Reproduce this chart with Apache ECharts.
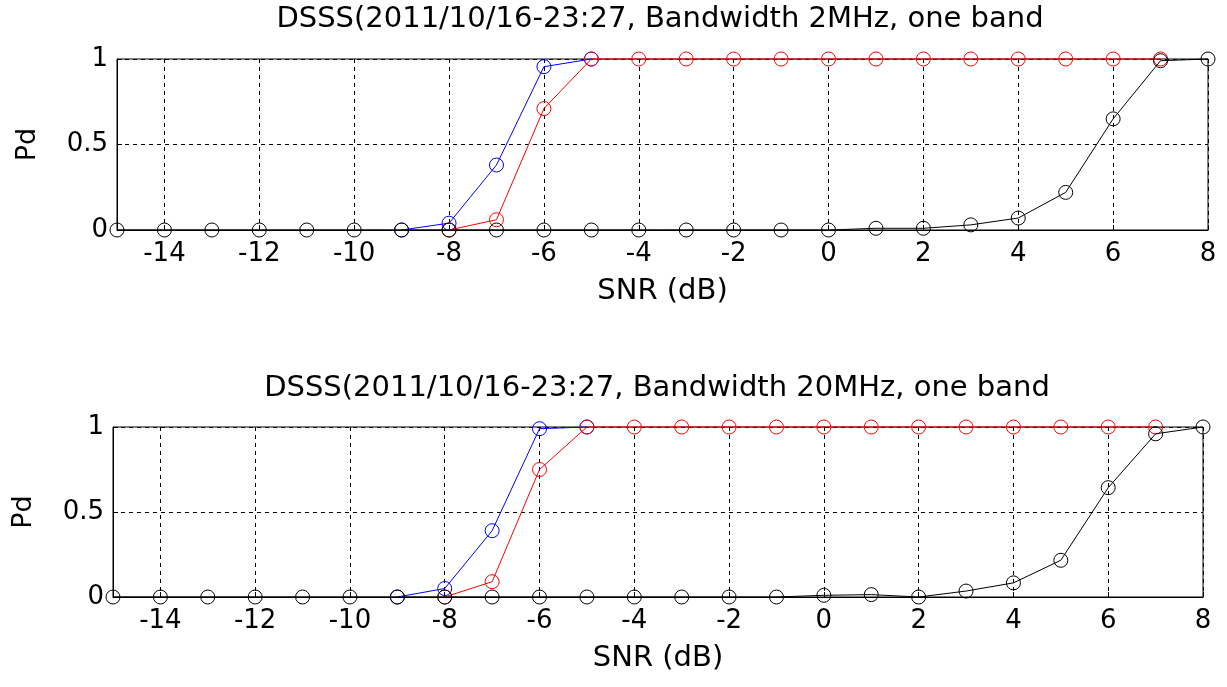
<!DOCTYPE html>
<html>
<head>
<meta charset="utf-8">
<script src="https://cdn.jsdelivr.net/npm/echarts@6/dist/echarts.min.js"></script>
<style>
html,body{margin:0;padding:0;background:#fff;}
#chart{width:1227px;height:687px;}
</style>
</head>
<body>
<div id="chart"></div>
<script>
// ---- data ----
const titles = [
  'DSSS(2011/10/16-23:27, Bandwidth 2MHz, one band',
  'DSSS(2011/10/16-23:27, Bandwidth 20MHz, one band'
];
const xTickValues = [-14, -12, -10, -8, -6, -4, -2, 0, 2, 4, 6, 8];
const yTickValues = [0, 0.5, 1];

const snrBlack = [-15,-14,-13,-12,-11,-10,-9,-8,-7,-6,-5,-4,-3,-2,-1,0,1,2,3,4,5,6,7,8];
const snrBlue  = [-9,-8,-7,-6,-5];
const snrRed   = [-8,-7,-6,-5,-4,-3,-2,-1,0,1,2,3,4,5,6,7];

// top panel (2 MHz)
const topBlack = [0,0,0,0,0,0,0,0,0,0,0,0,0,0,0,0,0.01,0.01,0.03,0.07,0.22,0.65,0.99,1];
const topBlue  = [0,0.04,0.38,0.955,1];
const topRed   = [0,0.06,0.71,1,1,1,1,1,1,1,1,1,1,1,1,1];

// bottom panel (20 MHz)
const botBlack = [0,0,0,0,0,0,0,0,0,0,0,0,0,0,0,0.01,0.014,0,0.035,0.083,0.216,0.643,0.96,1];
const botBlue  = [0,0.05,0.39,0.99,1];
const botRed   = [0,0.09,0.75,1,1,1,1,1,1,1,1,1,1,1,1,1];

// ---- build options ----
const FONT = 'DejaVu Sans';
const zip = (xs, ys) => xs.map((x, i) => [x, ys[i]]);

const grids = [
  {left: 117, top: 59, width: 1091, height: 171},
  {left: 113, top: 427, width: 1090, height: 170}
];

function xAxisFor(i) {
  return {
    type: 'value', gridIndex: i, min: -15, max: 8,
    axisLine: {show: true, onZero: false, lineStyle: {color: '#000', width: 1}},
    axisTick: {show: true, inside: true, length: 5, customValues: xTickValues, lineStyle: {color: '#000'}},
    axisLabel: {show: true, customValues: xTickValues, color: '#000', fontFamily: FONT, fontSize: 26, margin: 11},
    splitLine: {show: true, lineStyle: {color: '#000', type: [4, 4], width: 1}},
    name: 'SNR (dB)', nameLocation: 'middle', nameGap: 47,
    nameTextStyle: {color: '#000', fontFamily: FONT, fontSize: 29}
  };
}
function yAxisFor(i) {
  return {
    type: 'value', gridIndex: i, min: 0, max: 1, interval: 0.5,
    axisLine: {show: true, onZero: false, lineStyle: {color: '#000', width: 1}},
    axisTick: {show: true, inside: true, length: 5, lineStyle: {color: '#000'}},
    axisLabel: {show: true, color: '#000', fontFamily: FONT, fontSize: 26, margin: 9,
      formatter: v => String(v)},
    splitLine: {show: true, lineStyle: {color: '#000', type: [4, 4], width: 1}},
    name: 'Pd', nameLocation: 'middle', nameGap: 76, nameRotate: 90,
    nameTextStyle: {color: '#000', fontFamily: FONT, fontSize: 27}
  };
}

function lineSeries(i, xs, ys, color, z) {
  return {
    type: 'line', xAxisIndex: i, yAxisIndex: i,
    data: zip(xs, ys),
    symbol: 'circle', symbolSize: 14, showSymbol: true,
    lineStyle: {color: color, width: 1},
    itemStyle: {color: 'transparent', borderColor: color, borderWidth: 1},
    emphasis: {disabled: true},
    animation: false, z: z, clip: false
  };
}

function titleText(text, cx, cy) {
  return {
    type: 'text', x: cx, y: cy, silent: true,
    style: {text: text, fill: '#000', font: 'normal 29px "' + FONT + '"',
      textAlign: 'center', textVerticalAlign: 'middle'}
  };
}

const option = {
  backgroundColor: '#fff',
  animation: false,
  graphic: [
    titleText(titles[0], 660, 19),
    titleText(titles[1], 657, 388)
  ],
  grid: grids.map(g => Object.assign({show: true, borderColor: '#000', borderWidth: 1, backgroundColor: '#fff'}, g)),
  xAxis: [xAxisFor(0), xAxisFor(1)],
  yAxis: [yAxisFor(0), yAxisFor(1)],
  series: [
    lineSeries(0, snrBlue, topBlue, '#0000ff', 2),
    lineSeries(0, snrRed, topRed, '#ff0000', 3),
    lineSeries(0, snrBlack, topBlack, '#000000', 4),
    lineSeries(1, snrBlue, botBlue, '#0000ff', 2),
    lineSeries(1, snrRed, botRed, '#ff0000', 3),
    lineSeries(1, snrBlack, botBlack, '#000000', 4)
  ]
};

const chart = echarts.init(document.getElementById('chart'), null, {renderer: 'canvas'});
chart.setOption(option);
</script>
</body>
</html>
